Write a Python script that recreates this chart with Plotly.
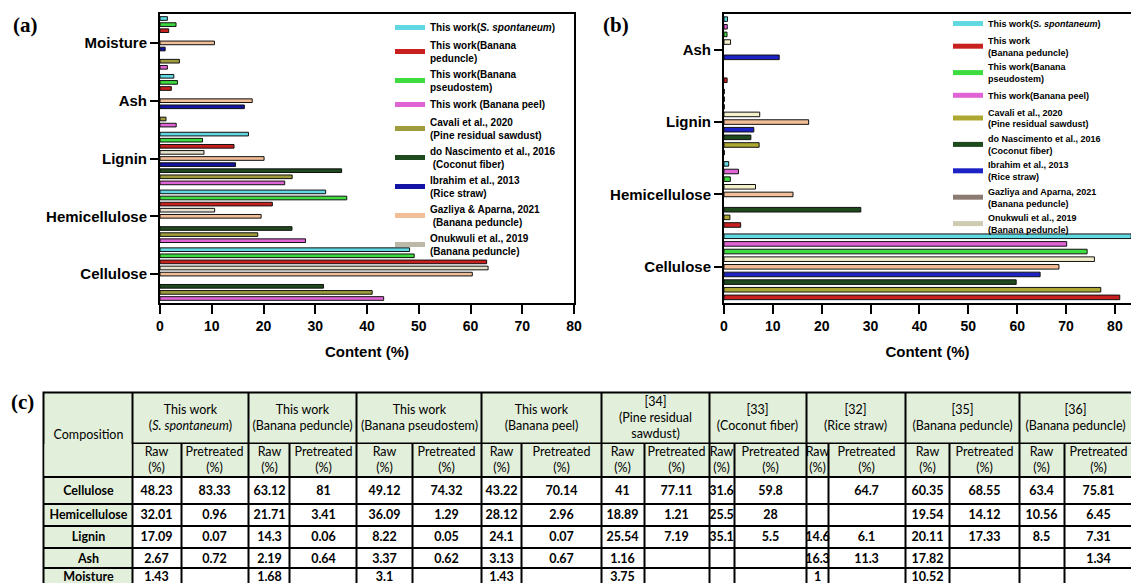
import plotly.graph_objects as go

W, H = 1131, 583

# ---------------- data ----------------
categories_a = ["Cellulose", "Hemicellulose", "Lignin", "Ash", "Moisture"]
categories_b = ["Cellulose", "Hemicellulose", "Lignin", "Ash"]

spont_raw = [48.23, 32.01, 17.09, 2.67, 1.43]
spont_pre = [83.33, 0.96, 0.07, 0.72, None]
ped_raw = [63.12, 21.71, 14.3, 2.19, 1.68]
ped_pre = [81, 3.41, 0.06, 0.64, None]
pseudo_raw = [49.12, 36.09, 8.22, 3.37, 3.1]
pseudo_pre = [74.32, 1.29, 0.05, 0.62, None]
peel_raw = [43.22, 28.12, 24.1, 3.13, 1.43]
peel_pre = [70.14, 2.96, 0.07, 0.67, None]
cavali_raw = [41, 18.89, 25.54, 1.16, 3.75]
cavali_pre = [77.11, 1.21, 7.19, None, None]
nasc_raw = [31.6, 25.5, 35.1, None, None]
nasc_pre = [59.8, 28, 5.5, None, None]
ibrahim_raw = [None, None, 14.6, 16.3, 1]
ibrahim_pre = [64.7, None, 6.1, 11.3, None]
gazliya_raw = [60.35, 19.54, 20.11, 17.82, 10.52]
gazliya_pre = [68.55, 14.12, 17.33, None, None]
onuk_raw = [63.4, 10.56, 8.5, None, None]
onuk_pre = [75.81, 6.45, 7.31, 1.34, None]

raw = {"spont": spont_raw, "ped": ped_raw, "pseudo": pseudo_raw, "peel": peel_raw,
       "cavali": cavali_raw, "nasc": nasc_raw, "ibrahim": ibrahim_raw,
       "gazliya": gazliya_raw, "onuk": onuk_raw}
pre = {"spont": spont_pre, "ped": ped_pre, "pseudo": pseudo_pre, "peel": peel_pre,
       "cavali": cavali_pre, "nasc": nasc_pre, "ibrahim": ibrahim_pre,
       "gazliya": gazliya_pre, "onuk": onuk_pre}

legend_order = ["spont", "ped", "pseudo", "peel", "cavali", "nasc", "ibrahim", "gazliya", "onuk"]

names_a = {
    "spont": "This work(<i>S. spontaneum</i>)",
    "ped": "This work(Banana<br>peduncle)",
    "pseudo": "This work(Banana<br>pseudostem)",
    "peel": "This work (Banana peel)",
    "cavali": "Cavali et al., 2020<br>(Pine residual sawdust)",
    "nasc": "do Nascimento et al., 2016<br> (Coconut fiber)",
    "ibrahim": "Ibrahim et al., 2013<br>(Rice straw)",
    "gazliya": "Gazliya &amp; Aparna, 2021<br> (Banana peduncle)",
    "onuk": "Onukwuli et al., 2019<br>(Banana peduncle)",
}
names_b = {
    "spont": "This work(<i>S. spontaneum</i>)",
    "ped": "This work<br>(Banana peduncle)",
    "pseudo": "This work(Banana<br>pseudostem)",
    "peel": "This work(Banana peel)",
    "cavali": "Cavali et al., 2020<br>(Pine residual sawdust)",
    "nasc": "do Nascimento et al., 2016<br>(Coconut fiber)",
    "ibrahim": "Ibrahim et al., 2013<br>(Rice straw)",
    "gazliya": "Gazliya and Aparna, 2021<br>(Banana peduncle)",
    "onuk": "Onukwuli et al., 2019<br>(Banana peduncle)",
}

# table text
table_groups = ["This work<br>(<i>S. spontaneum</i>)", "This work<br>(Banana peduncle)",
                "This work<br>(Banana pseudostem)", "This work<br>(Banana peel)",
                "[34]<br>(Pine residual<br>sawdust)", "[33]<br>(Coconut fiber)",
                "[32]<br>(Rice straw)", "[35]<br>(Banana peduncle)", "[36]<br>(Banana peduncle)"]
table_sources = ["spont", "ped", "pseudo", "peel", "cavali", "nasc", "ibrahim", "gazliya", "onuk"]
sub_headers = ["Raw<br>(%)", "Pretreated<br>(%)"]

# ---------------- styles ----------------
colors_a = {"spont": "#62D8E2", "ped": "#C8201E", "pseudo": "#3EDC3E", "peel": "#E064D6",
            "cavali": "#9E9C3C", "nasc": "#1E4A1E", "ibrahim": "#1414A4",
            "gazliya": "#F2BE98", "onuk": "#E4E0CC"}
colors_b = {"spont": "#62D8E2", "ped": "#C8201E", "pseudo": "#3EDC3E", "peel": "#E064D6",
            "cavali": "#ACA832", "nasc": "#1E4A1E", "ibrahim": "#1C22C4",
            "gazliya": "#F2BE98", "onuk": "#F4F0CC"}
legend_colors_a = dict(colors_a, onuk="#BDB9A8")
legend_colors_b = dict(colors_b, gazliya="#8C7B70", onuk="#CFCBB0")

# bottom-to-top order inside each category group
stack_a = ["peel", "cavali", "nasc", "ibrahim", "gazliya", "onuk", "ped", "pseudo", "spont"]
stack_b = ["ped", "cavali", "nasc", "ibrahim", "gazliya", "onuk", "pseudo", "peel", "spont"]

col_widths = [89, 48.5, 67.5, 41, 67, 55.5, 69.5, 39.5, 80, 43.5, 64.5, 25, 72, 22, 77,
              44.5, 69.5, 45, 68]
row_heights = [50.5, 33.5, 27.5, 21.5, 22.5, 20, 16.5]

FONT = "Liberation Sans"
TFONT = "Lato"
GREEN = "#E2EFDA"


def px_x(p):
    return p / W


def px_y(p):
    return 1 - p / H


fig = go.Figure()

# ---------------- panel (a) ----------------
for k in stack_a:
    fig.add_trace(go.Bar(y=categories_a, x=raw[k], orientation="h", xaxis="x", yaxis="y",
                         marker=dict(color=colors_a[k], line=dict(color="#111111", width=1)),
                         showlegend=False, hoverinfo="skip"))
for k in legend_order:
    fig.add_trace(go.Scatter(x=[None], y=[None], mode="lines", xaxis="x", yaxis="y",
                             line=dict(color=legend_colors_a[k], width=5),
                             name=names_a[k], legend="legend"))

# ---------------- panel (b) ----------------
n_b = len(categories_b)
for k in stack_b:
    fig.add_trace(go.Bar(y=categories_b, x=pre[k][:n_b], orientation="h", xaxis="x2", yaxis="y2",
                         marker=dict(color=colors_b[k], line=dict(color="#111111", width=1)),
                         showlegend=False, hoverinfo="skip"))
for k in legend_order:
    fig.add_trace(go.Scatter(x=[None], y=[None], mode="lines", xaxis="x2", yaxis="y2",
                             line=dict(color=legend_colors_b[k], width=5),
                             name=names_b[k], legend="legend2"))

# ---------------- table (c) ----------------
x_edges = [0]
for w in col_widths:
    x_edges.append(x_edges[-1] + w)
y_edges = [0]
for h in row_heights:
    y_edges.append(y_edges[-1] + h)


def fmt(v):
    return "" if v is None else "<b>%s</b>" % v


body_text = [[""] + sub_headers * len(table_sources)]
body_z = [[1] * len(col_widths)]
for i, cat in enumerate(categories_a):
    row = ["<b>%s</b>" % cat]
    for s in table_sources:
        row += [fmt(raw[s][i]), fmt(pre[s][i])]
    body_text.append(row)
    body_z.append([1] + [0] * (len(col_widths) - 1))

group_edges = [x_edges[1]] + [x_edges[3 + 2 * i] for i in range(len(table_groups))]

tfont = dict(family=TFONT, size=12.5, color="black")
common = dict(xaxis="x3", yaxis="y3", zmin=0, zmax=1, showscale=False, hoverinfo="skip",
              xgap=2, ygap=2, texttemplate="%{text}", textfont=tfont,
              colorscale=[[0, "#FFFFFF"], [1, GREEN]])

fig.add_trace(go.Heatmap(z=[[0]], x=[-10, 1300], y=[-10, 400], xaxis="x3", yaxis="y3",
                         zmin=0, zmax=1, showscale=False, hoverinfo="skip",
                         colorscale=[[0, "#000000"], [1, "#000000"]]))
fig.add_trace(go.Heatmap(z=body_z, text=body_text, x=x_edges, y=y_edges[1:], **common))
fig.add_trace(go.Heatmap(z=[[1] * len(table_groups)], text=[table_groups], x=group_edges,
                         y=y_edges[:2], **common))
fig.add_trace(go.Heatmap(z=[[1]], text=[["Composition"]], x=x_edges[:2], y=[y_edges[0], y_edges[2]],
                         **common))

# ---------------- layout ----------------
axis_font = dict(family=FONT, size=14, color="black", weight="bold")
cat_font = dict(family=FONT, size=15, color="black", weight="bold")
xcommon = dict(range=[0, 80], dtick=10, tick0=0, ticks="outside", ticklen=9, tickwidth=2,
               tickcolor="black", showline=True, linewidth=2, linecolor="black",
               showgrid=False, zeroline=False, tickfont=axis_font, automargin=False,
               title=dict(text="Content (%)", font=dict(family=FONT, size=15, color="black",
                                                         weight="bold"), standoff=14))
ycommon = dict(type="category", ticks="outside", ticklen=8, tickwidth=2, tickcolor="black",
               showline=True, linewidth=2, linecolor="black", showgrid=False, zeroline=False,
               tickfont=cat_font, automargin=False)

legend_common = dict(xanchor="left", yanchor="top", bgcolor="rgba(0,0,0,0)",
                     tracegroupgap=0, borderwidth=0)

fig.update_layout(
    width=W, height=H,
    margin=dict(l=0, r=0, t=0, b=0, autoexpand=False),
    paper_bgcolor="white", plot_bgcolor="white",
    barmode="group", bargap=0.05, bargroupgap=0.4,
    xaxis=dict(domain=[px_x(160), px_x(574)], anchor="y", mirror=True, **xcommon),
    yaxis=dict(domain=[px_y(303), px_y(14)], anchor="x", mirror=True,
               categoryorder="array", categoryarray=categories_a, range=[-0.5, 4.5], **ycommon),
    xaxis2=dict(domain=[px_x(724), 1], anchor="y2", mirror=True,
                **dict(xcommon, range=[0, 83.3])),
    yaxis2=dict(domain=[px_y(303), px_y(13.5)], anchor="x2", mirror=False,
                categoryorder="array", categoryarray=categories_b, range=[-0.5, 3.5], **ycommon),
    xaxis3=dict(domain=[px_x(42.5), 1], anchor="y3", range=[-1, W - 42.5 - 1], visible=False,
                fixedrange=True),
    yaxis3=dict(domain=[0, px_y(391.5)], anchor="x3", range=[H - 391.5 - 1, -1], visible=False,
                fixedrange=True),
    legend=dict(x=px_x(390), y=px_y(13), font=dict(family=FONT, size=10, color="black",
                                                   weight="bold"), **legend_common),
    legend2=dict(x=px_x(948), y=px_y(9), font=dict(family=FONT, size=9, color="black",
                                                   weight="bold"), **legend_common),
    showlegend=True,
)

label_font = dict(family="Liberation Serif", size=21, color="black", weight="bold")
for txt, xp, yp in [("(a)", 11, 25), ("(b)", 601, 25), ("(c)", 9, 402)]:
    fig.add_annotation(text=txt, x=px_x(xp), y=px_y(yp), xref="paper", yref="paper",
                       xanchor="left", yanchor="middle", showarrow=False, font=label_font)

fig.write_html("out.html")
